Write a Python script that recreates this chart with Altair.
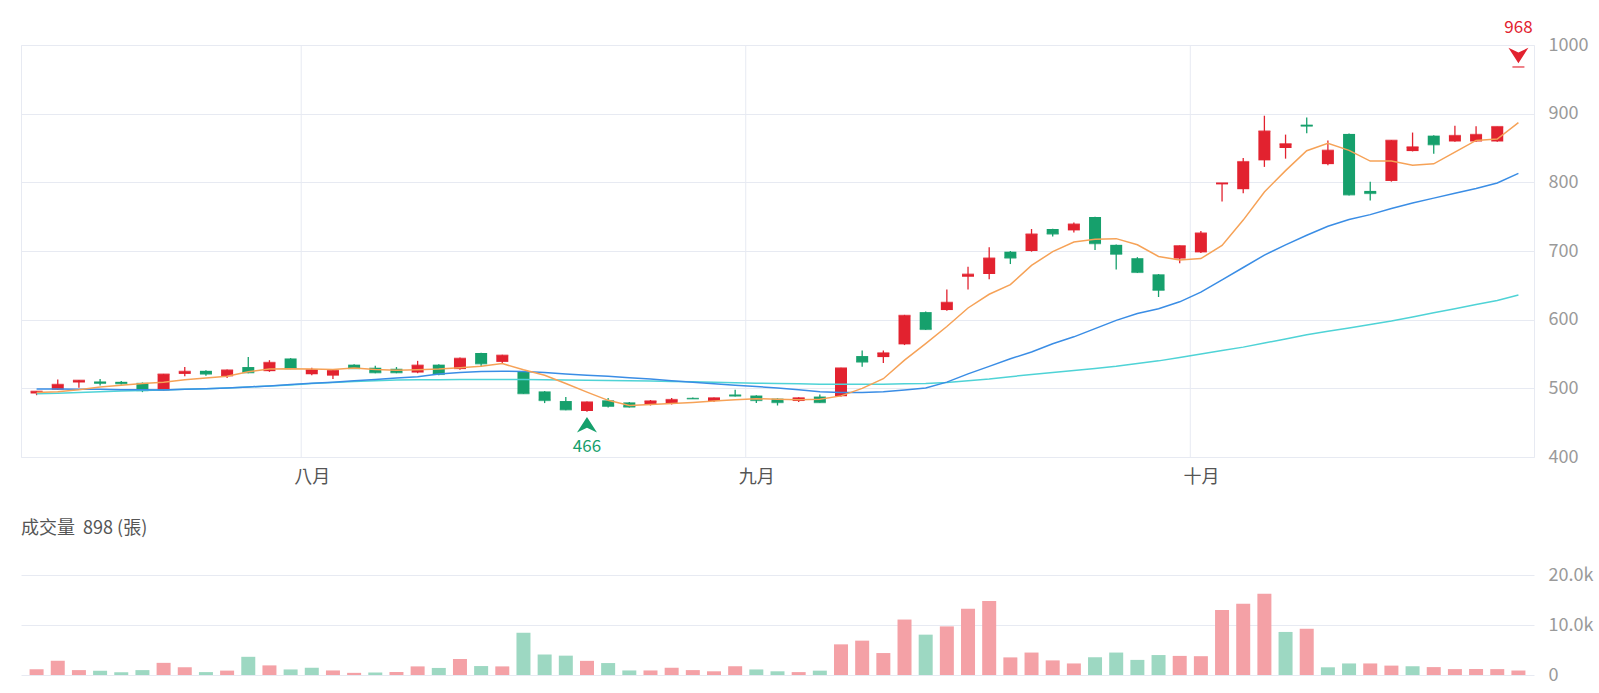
import altair as alt
import pandas as pd

# ---------------- data ----------------
opens = [492.5, 498, 508.5, 510, 509.5, 508, 497, 521, 525.5, 517.5,
         531, 525, 543.5, 520.5, 518.5, 534.5, 530, 528.5, 523, 534.5,
         528, 551.5, 538.5, 524, 495.5, 481.5, 467, 482.5, 479.5, 476.5,
         478.5, 486, 481.5, 491, 489.5, 485, 481.5, 488, 488.5, 547,
         545.5, 564, 611, 614, 662.5, 666.5, 699, 700, 732, 730,
         749.5, 709, 689.5, 666, 689, 698, 797, 790, 832, 850,
         884, 826.5, 870.5, 787.5, 802, 845.5, 868, 859.5, 859.5, 859.5,
         968]
highs = [496, 513, 512, 513.5, 510.5, 508.5, 521, 531, 526.5, 527.5,
         545.5, 541, 544, 530, 527, 535, 533, 531, 540, 535,
         545, 552, 549, 524.5, 496, 487.5, 481, 486, 480, 483,
         486, 486.5, 486.5, 498, 490, 485.5, 487, 491, 530, 555,
         555, 607, 612, 644, 677, 705.5, 700, 732, 732.5, 741.5,
         750, 709.5, 691, 666.5, 708, 729, 799, 835.5, 897, 869.5,
         894.5, 861, 871, 801, 861.5, 872.5, 868.5, 882.5, 881.5, 881,
         968]
lows = [490, 497.5, 501, 504, 505.5, 494.5, 496.5, 517.5, 518.5, 515,
        522, 524, 528, 519, 513.5, 528, 522, 522, 522, 519,
        527, 531, 537, 492, 478.5, 468, 466, 472, 472, 475,
        476.5, 484.5, 480, 488, 478.5, 475, 480, 479, 488, 531.5,
        537, 563, 585, 613, 644, 659, 681, 699, 721, 727,
        701.5, 673, 668, 633, 682, 697, 772, 784, 822.5, 834.5,
        871.5, 825, 781, 773.5, 801, 845, 841.5, 859, 859, 859,
        968]
closes = [495.5, 505.5, 511.5, 507.5, 507, 497, 520.5, 524.5, 521, 526.5,
          523, 537.5, 529, 527, 526, 529, 523, 523, 533.5, 520.5,
          543.5, 536, 548, 492.5, 482.5, 469, 480, 474, 473, 481.5,
          483.5, 485, 486, 489, 482.5, 479.5, 486, 479.5, 529.5, 538.5,
          551.5, 606, 586, 625, 666, 689.5, 690, 724.5, 725, 739,
          711, 695.5, 669, 643, 707.5, 726, 799, 830, 874.5, 856,
          882, 846.5, 782, 784, 861, 851.5, 855, 868, 869.5, 881,
          968]
volumes = [1150, 2850, 980, 850, 550, 980, 2430, 1550, 580, 880,
           3640, 1920, 1110, 1450, 910, 430, 500, 600, 1720, 1410,
           3200, 1790, 1720, 8450, 4100, 3870, 2830, 2390, 910, 910,
           1450, 980, 740, 1750, 1110, 740, 580, 870, 6130, 6870,
           4390, 11090, 8070, 9720, 13240, 14780, 3520, 4490, 2920, 2310,
           3550, 4490, 3020, 3990, 3820, 3760, 13000, 14240, 16250, 8610,
           9250, 1540, 2310, 2310, 1880, 1750, 1580, 1180, 1200, 1180,
           898]
# volume bar colour: u = up vs previous close, d = down
vol_dir = list("uuuddduudu" "dudduuduud" "ududdduddu" "uuuudduduu"
               "uuduuuuuuu" "dddduuuuud" "udduuduuuu" "u")
ma5 = [494, 495, 498, 502, 504.5, 507, 509, 512.5, 515, 517.5,
       524, 528, 528.5, 528, 527.5, 529.5, 527.5, 526.5, 527, 528,
       530, 532, 536, 527, 519, 507, 494.5, 482.5, 475, 476.5,
       478, 479.5, 481.5, 483.5, 485, 484, 483.5, 484, 489, 500,
       514, 541, 565, 590, 617, 637, 651, 679, 699, 713,
       717, 718, 709, 692, 687, 689, 708, 745, 786, 817,
       846, 857, 846.5, 831, 831, 825, 827, 844, 861, 863,
       887]
ma20 = [499, 499, 498.5, 498.5, 498, 498, 497.5, 498.5, 499.5, 500.5,
        502, 503.5, 505.5, 507.5, 509, 511, 513, 515, 517, 521,
        523, 524.5, 525, 524.5, 523, 521, 519, 517.5, 515.5, 513.5,
        511, 509, 506.5, 504.5, 502.5, 500.5, 498, 495, 494, 494,
        495, 497.5, 500.5, 509, 521, 532, 543, 553, 565, 575,
        587, 599, 609, 616, 626, 640, 658, 676, 694, 709,
        723, 736, 746, 753, 762, 770, 777, 784, 791, 799,
        813]
ma60 = [492, 493, 494, 495, 496, 497, 497.5, 498.5, 499.5, 500.5,
        502, 503.5, 505, 507, 508.5, 510, 511, 512, 512.5, 512.5,
        513, 513, 513, 512.7, 512.5, 512, 511.7, 511.5, 511, 510.5,
        510, 509.5, 509, 508, 507.5, 507, 506.5, 506, 506, 506,
        506, 506.5, 507, 508.5, 511, 513.5, 517, 520, 523, 526,
        529, 532, 536, 540, 545, 550, 555, 560, 566, 572,
        578, 583, 588, 593, 598, 604, 610, 616, 622, 628,
        636]
month_names = ["八月", "九月", "十月"]
month_first_index = [13, 34, 55]
price_ticks = [400, 500, 600, 700, 800, 900, 1000]
vol_ticks = [0, 10000, 20000]

# ---------------- tables ----------------
n = len(closes)
df = pd.DataFrame({
    "i": list(range(n)), "open": opens, "high": highs, "low": lows,
    "close": closes, "vol": volumes, "vdir": vol_dir,
    "ma5": ma5, "ma20": ma20, "ma60": ma60,
})
df["dir"] = ["u" if c >= o else "d" for o, c in zip(opens, closes)]
months_df = pd.DataFrame({"first": month_first_index, "name": month_names})

# ---------------- style ----------------
FONT = "Noto Sans CJK TC"
RED = "#E2222F"
GREEN = "#16A06C"
RED_V = "#F4A1A6"
GREEN_V = "#9DD8C2"
GRID = "#E7EAF2"
LABEL = "#9A9A9A"
W = 1513
H1 = 412
H2 = 100

xscale = alt.Scale(domain=[-0.5, n - 0.5], nice=False, zero=False)
label_expr = " : ".join(
    f"datum.value == {v} ? '{m}'" for v, m in zip(month_first_index, month_names)
) + " : ''"
x_axis = alt.Axis(
    values=month_first_index, labelExpr=label_expr, grid=False, ticks=False,
    domain=False, labelColor="#555555", labelFontSize=18, labelFont=FONT,
    labelPadding=11, title=None)
x_price = alt.X("i:Q", scale=xscale, axis=x_axis)
yscale = alt.Scale(domain=[price_ticks[0], price_ticks[-1]], nice=False, zero=False)
y_axis = alt.Axis(orient="right", values=price_ticks, format="d", grid=True, gridColor=GRID,
                  ticks=False, domain=False, labelColor=LABEL, labelFontSize=18,
                  labelFont=FONT, labelPadding=14, title=None)
col = alt.Color("dir:N", scale=alt.Scale(domain=["u", "d"], range=[RED, GREEN]), legend=None)

base = alt.Chart(df)

month_grid = alt.Chart(months_df).transform_calculate(
    b="datum.first - 0.5"
).mark_rule(color=GRID, strokeWidth=1).encode(
    x=alt.X("b:Q", scale=xscale, axis=x_axis),
    y=alt.datum(price_ticks[0], scale=yscale, axis=y_axis), y2=alt.datum(price_ticks[-1]))

wicks = base.mark_rule(strokeWidth=1.3).encode(
    x=x_price, y=alt.Y("low:Q", scale=yscale, axis=y_axis), y2="high:Q", color=col)
bodies = base.mark_bar(size=12).encode(
    x=x_price, y=alt.Y("open:Q", scale=yscale, axis=y_axis), y2="close:Q", color=col)
close_ticks = base.mark_tick(size=12, thickness=1.6, orient="horizontal").encode(
    x=x_price, y=alt.Y("close:Q", scale=yscale, axis=y_axis), color=col)

def ma_line(field, color):
    return base.mark_line(color=color, strokeWidth=1.5).encode(
        x=x_price, y=alt.Y(f"{field}:Q", scale=yscale, axis=y_axis))

ma_layers = [ma_line("ma60", "#4FD3D6"), ma_line("ma20", "#3A8DE5"), ma_line("ma5", "#F6A257")]

hi = base.transform_joinaggregate(mx="max(high)").transform_filter("datum.high == datum.mx")
lo = base.transform_joinaggregate(mn="min(low)").transform_filter("datum.low == datum.mn")
down_arrow = "M-1,-0.77L0,-0.3L1,-0.77L0,0.77Z"
up_arrow = "M-1,0.77L0,0.3L1,0.77L0,-0.77Z"
hi_mark = hi.mark_point(shape=down_arrow, filled=True, size=400, color=RED, opacity=1,
                        yOffset=-11.5).encode(
    x=x_price, y=alt.Y("high:Q", scale=yscale, axis=y_axis))
hi_text = hi.mark_text(dy=-39, fontSize=17, font=FONT, color=RED, baseline="middle").encode(
    x=x_price, y=alt.Y("high:Q", scale=yscale, axis=y_axis), text=alt.Text("high:Q", format="d"))
lo_mark = lo.mark_point(shape=up_arrow, filled=True, size=400, color=GREEN, opacity=1,
                        yOffset=13).encode(
    x=x_price, y=alt.Y("low:Q", scale=yscale, axis=y_axis))
lo_text = lo.mark_text(dy=35.5, fontSize=17, font=FONT, color=GREEN, baseline="middle").encode(
    x=x_price, y=alt.Y("low:Q", scale=yscale, axis=y_axis), text=alt.Text("low:Q", format="d"))

price = alt.layer(month_grid, wicks, bodies, close_ticks, *ma_layers,
                  hi_mark, hi_text, lo_mark, lo_text).properties(
    width=W, height=H1, view=alt.ViewBackground(stroke=GRID, strokeWidth=1))

# ---------------- volume panel ----------------
vol_label = ("datum.value == 0 ? '0' : format(datum.value / 1000, '.1f') + 'k'")
vol_bars = base.mark_bar(size=14).encode(
    x=alt.X("i:Q", scale=xscale, axis=None),
    y=alt.Y("vol:Q", scale=alt.Scale(domain=[vol_ticks[0], vol_ticks[-1]], nice=False),
            axis=alt.Axis(orient="right", values=vol_ticks, labelExpr=vol_label, grid=True,
                          gridColor=GRID, ticks=False, domain=False, labelColor=LABEL,
                          labelFontSize=18, labelFont=FONT, labelPadding=14, title=None)),
    color=alt.Color("vdir:N", scale=alt.Scale(domain=["u", "d"], range=[RED_V, GREEN_V]),
                    legend=None))
title_df = pd.DataFrame({"t": [f"成交量\u00a0\u00a0{volumes[-1]}\u00a0(張)"]})
vol_title = alt.Chart(title_df).mark_text(
    align="left", baseline="middle", fontSize=18, font=FONT, color="#555555").encode(
    x=alt.value(0), y=alt.value(-46), text="t:N")

volume = alt.layer(vol_bars, vol_title).properties(
    width=W, height=H2, view=alt.ViewBackground(strokeWidth=0))

chart = alt.vconcat(price, volume, spacing=118, bounds="flush").resolve_scale(
    color="independent", x="independent", y="independent"
).properties(
    padding={"left": 20, "top": 18, "right": 5, "bottom": 5}
).configure_view(strokeWidth=0).configure(background="white")

chart.save("out.html", embed_options={"renderer": "svg", "actions": False})
